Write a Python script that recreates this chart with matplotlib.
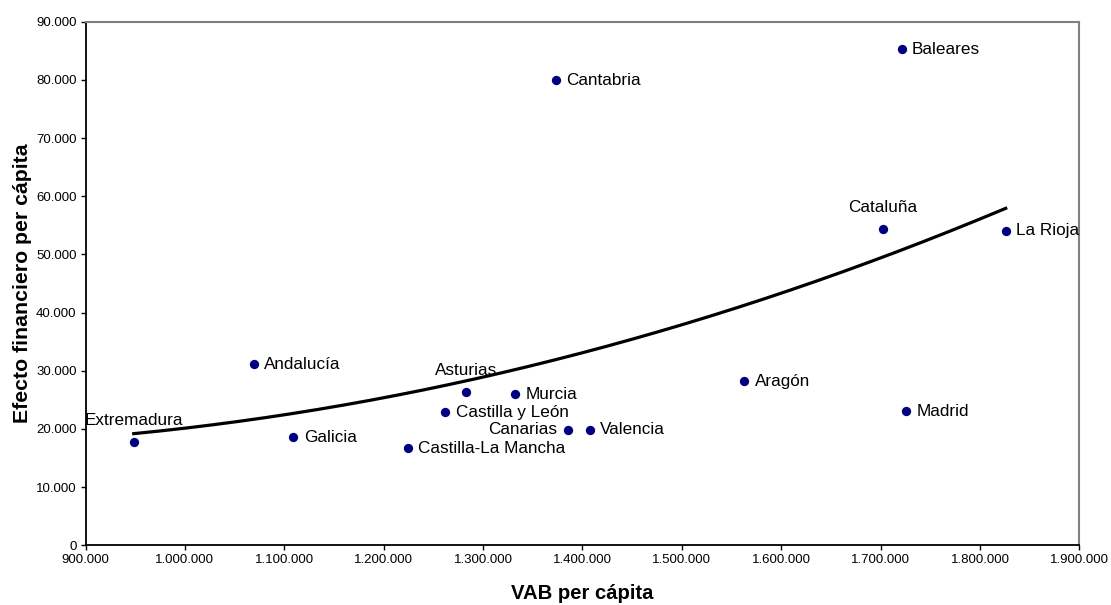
import numpy as np
import matplotlib
matplotlib.use("Agg")
from matplotlib import pyplot as plt
from matplotlib.ticker import FuncFormatter, MultipleLocator

plt.rcParams['font.family'] = ['Liberation Sans', 'DejaVu Sans']

# datos
regiones = ["Extremadura", "Andalucía", "Galicia", "Castilla-La Mancha", "Castilla y León",
            "Asturias", "Murcia", "Canarias", "Valencia", "Aragón", "Madrid",
            "Cantabria", "Baleares", "Cataluña", "La Rioja"]
vab = [948500, 1069500, 1109000, 1224400, 1262000,
       1283000, 1331800, 1385400, 1407500, 1562800, 1725400,
       1373000, 1721000, 1702000, 1825800]
efecto = [17760, 31160, 18560, 16720, 22860,
          26300, 25950, 19820, 19820, 28240, 23080,
          79920, 85300, 54370, 54070]

# posicion de cada etiqueta
arriba = ["Extremadura", "Asturias", "Cataluña"]
izquierda = ["Canarias"]


def miles(v, pos):
    return f"{int(round(v)):,}".replace(",", ".")


fig = plt.figure(figsize=(11.11, 6.05), dpi=100)
ax = fig.add_axes([0.077, 0.0987, 0.8946, 0.8654])

x = np.array(vab, dtype=float)
y = np.array(efecto, dtype=float)

# linea de tendencia polinomica (orden 2)
coef = np.polyfit(x, y, 2)
xs = np.linspace(x.min(), x.max(), 200)
ax.plot(xs, np.polyval(coef, xs), color='black', lw=2.3, zorder=2)

ax.scatter(x, y, s=45, color='#000080', zorder=3, linewidths=0)

for nombre, xi, yi in zip(regiones, vab, efecto):
    if nombre in arriba:
        ax.annotate(nombre, (xi, yi), xytext=(0, 15.5), textcoords='offset points',
                    ha='center', va='center', fontsize=12.3)
    elif nombre in izquierda:
        ax.annotate(nombre, (xi, yi), xytext=(-7.5, 0), textcoords='offset points',
                    ha='right', va='center', fontsize=12.3)
    else:
        ax.annotate(nombre, (xi, yi), xytext=(7.5, 0), textcoords='offset points',
                    ha='left', va='center', fontsize=12.3)

ax.set_xlim(900000, 1900000)
ax.set_ylim(0, 90000)
ax.xaxis.set_major_locator(MultipleLocator(100000))
ax.yaxis.set_major_locator(MultipleLocator(10000))
ax.xaxis.set_major_formatter(FuncFormatter(miles))
ax.yaxis.set_major_formatter(FuncFormatter(miles))
ax.tick_params(direction='out', length=3.5, width=1, labelsize=9.5, pad=3)

ax.spines['top'].set_color('#808080')
ax.spines['right'].set_color('#808080')
ax.spines['top'].set_linewidth(1.5)
ax.spines['right'].set_linewidth(1.5)
ax.spines['left'].set_linewidth(1.3)
ax.spines['bottom'].set_linewidth(1.3)

ax.set_xlabel("VAB per cápita", fontsize=14.6, fontweight='bold', labelpad=13)
ax.set_ylabel("Efecto financiero per cápita", fontsize=15.3, fontweight='bold', labelpad=3)

fig.savefig("out.png", dpi=100, facecolor="#FFFFFF")
plt.close()
